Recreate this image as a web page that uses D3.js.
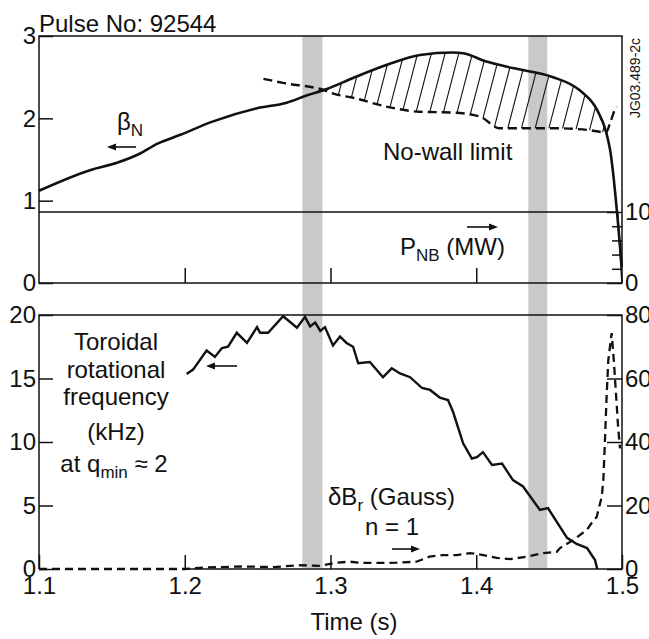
<!DOCTYPE html>
<html>
<head>
<meta charset="utf-8">
<script src="https://cdn.jsdelivr.net/npm/d3@7"></script>
<style>
  body { margin: 0; background: #fff; }
  svg { font-family: "Liberation Sans", Arial, Helvetica, sans-serif; fill: #111; }
  .axis text { font-size: 24px; font-family: "Liberation Sans", Arial, sans-serif; fill: #111; }
  .axis line { stroke: #111; stroke-width: 1.5; }
  .label { font-size: 24px; }
</style>
</head>
<body>
<div id="chart"></div>
<script>
// Pulse 92544

// beta_N (left axis, top panel)
const betaTime = [1.100, 1.135, 1.1535, 1.169, 1.181, 1.197, 1.219, 1.249, 1.270, 1.284, 1.298,
                  1.3155, 1.3388, 1.3614, 1.384, 1.391, 1.407, 1.425, 1.4527, 1.471, 1.483,
                  1.489, 1.4918, 1.4998];
const betaValue = [1.12, 1.37, 1.46, 1.57, 1.69, 1.80, 1.96, 2.12, 2.19, 2.28, 2.36,
                   2.49, 2.65, 2.77, 2.80, 2.79, 2.69, 2.61, 2.50, 2.34, 2.10,
                   1.84, 1.62, 0.20];

// no-wall beta limit (dashed, top panel)
const wallTime = [1.254, 1.2675, 1.296, 1.302, 1.3155, 1.339, 1.361, 1.384, 1.4026, 1.416,
                  1.430, 1.4527, 1.476, 1.489, 1.4918, 1.495, 1.4965];
const wallValue = [2.48, 2.43, 2.34, 2.30, 2.25, 2.14, 2.08, 2.07, 2.02, 1.88,
                   1.88, 1.88, 1.86, 1.83, 1.94, 2.10, 2.14];

// NBI power in MW (right axis, top panel)
const pnbTime = [1.100, 1.497, 1.500];
const pnbValue = [10, 10, 0];

// toroidal rotation frequency at q_min ~ 2, kHz (left axis, bottom panel)
const rotTime = [1.2013, 1.2057, 1.215, 1.2207, 1.2255, 1.2297, 1.2357, 1.2427, 1.2496, 1.2517,
                 1.2572, 1.2675, 1.277, 1.2825, 1.286, 1.2895, 1.293, 1.2962, 1.3017, 1.3065,
                 1.311, 1.3155, 1.319, 1.327, 1.336, 1.342, 1.3477, 1.3546, 1.3628, 1.3683,
                 1.375, 1.3806, 1.384, 1.391, 1.397, 1.4005, 1.4046, 1.4108, 1.4177, 1.4252,
                 1.4321, 1.4437, 1.4492, 1.4623, 1.4689, 1.476, 1.4815, 1.483];
const rotValue = [15.35, 15.7, 17.2, 16.7, 17.4, 17.5, 18.6, 17.8, 19.05, 18.6,
                  18.6, 19.9, 19.0, 19.85, 19.1, 19.4, 18.75, 19.05, 17.6, 18.3,
                  17.8, 17.5, 16.2, 16.3, 15.1, 15.8, 15.4, 15.1, 14.25, 14.1,
                  13.5, 13.3, 12.4, 9.9, 8.7, 8.8, 9.2, 8.2, 8.3, 7.0,
                  6.5, 4.65, 4.8, 2.45, 1.97, 1.65, 0.7, 0];

// n=1 radial field perturbation, Gauss (right axis, bottom panel)
const brTime = [1.100, 1.200, 1.215, 1.240, 1.260, 1.280, 1.293, 1.304, 1.3134, 1.322,
                1.334, 1.3454, 1.359, 1.368, 1.377, 1.3866, 1.3957, 1.4048, 1.414, 1.4232,
                1.4346, 1.446, 1.4552, 1.4575, 1.4664, 1.4758, 1.4792, 1.4826, 1.4861, 1.4872,
                1.4883, 1.4895, 1.4906, 1.4929, 1.4945, 1.4959, 1.4973, 1.4986];
const brValue = [0, 0, 0.5, 0.8, 0.6, 1.2, 1.0, 2.0, 2.3, 1.9,
                 1.9, 2.0, 2.3, 3.9, 4.4, 4.4, 5.0, 4.4, 3.5, 3.1,
                 3.9, 5.0, 5.4, 6.6, 9.1, 12.3, 14.5, 16.4, 22.7, 28,
                 40.6, 55, 65.8, 74.3, 65, 55, 45, 38];

// shaded time windows
const bandStart = [1.2807, 1.4357];
const bandEnd = [1.2945, 1.4487];

// ticks
const timeTicks = [1.1, 1.2, 1.3, 1.4, 1.5];
const betaTicks = [0, 1, 2, 3];
const pnbTicks = [0, 10];
const pnbMinorTicks = [2, 4, 6, 8];
const rotTicks = [0, 5, 10, 15, 20];
const brTicks = [0, 20, 40, 60, 80];

const zip = (ts, vs) => ts.map((t, i) => ({t: t, v: vs[i]}));
const beta = zip(betaTime, betaValue);
const wall = zip(wallTime, wallValue);
const pnb = zip(pnbTime, pnbValue);
const rot = zip(rotTime, rotValue);
const br = zip(brTime, brValue);

// Setup
const svgWidth = 649;
const svgHeight = 639;

const svg = d3.select("#chart")
    .append("svg")
    .attr("width", svgWidth)
    .attr("height", svgHeight);

const x = d3.scaleLinear().domain([1.1, 1.5]).range([39, 622]);

// top panel
const topY0 = 36, topY1 = 283;
const yBeta = d3.scaleLinear().domain([0, 3]).range([topY1, topY0]);
const yPnb = d3.scaleLinear().domain([0, 10]).range([topY1, 212]);

// bottom panel
const botY0 = 315, botY1 = 569;
const yRot = d3.scaleLinear().domain([0, 20]).range([botY1, botY0]);
const yBr = d3.scaleLinear().domain([0, 80]).range([botY1, botY0]);

// grey time windows across both panels
svg.selectAll(".band")
  .data(bandStart)
  .enter().append("rect")
    .attr("class", "band")
    .attr("x", d => x(d))
    .attr("width", (d, i) => x(bandEnd[i]) - x(d))
    .attr("y", topY0)
    .attr("height", 568 - topY0)
    .attr("fill", "#c9c9c9");

// hatching between beta_N and the no-wall limit
const defs = svg.append("defs");
defs.append("clipPath").attr("id", "underBeta")
  .append("path")
    .attr("d", d3.area()
        .x(d => x(d.t)).y0(topY1).y1(d => yBeta(d.v))
        .curve(d3.curveMonotoneX)(beta));
defs.append("clipPath").attr("id", "overWall")
  .append("path")
    .attr("d", d3.area()
        .x(d => x(d.t)).y0(topY0).y1(d => yBeta(d.v))
        .curve(d3.curveMonotoneX)(wall));

const hatchY = yBeta(1.88);
const hatch = svg.append("g").attr("clip-path", "url(#underBeta)")
  .append("g").attr("clip-path", "url(#overWall)");
hatch.selectAll("line")
  .data(d3.range(-20, 12))
  .enter().append("line")
    .attr("x1", k => 466.7 + 13.7 * k + 0.26 * (hatchY - 160))
    .attr("y1", 160)
    .attr("x2", k => 466.7 + 13.7 * k + 0.26 * (hatchY - 40))
    .attr("y2", 40)
    .attr("stroke", "#111")
    .attr("stroke-width", 1.1);

// curves
const lineBeta = d3.line().x(d => x(d.t)).y(d => yBeta(d.v)).curve(d3.curveMonotoneX);
const lineRot = d3.line().x(d => x(d.t)).y(d => yRot(d.v));
const lineBr = d3.line().x(d => x(d.t)).y(d => yBr(d.v));
const linePnb = d3.line().x(d => x(d.t)).y(d => yPnb(d.v));

svg.append("path").attr("d", linePnb(pnb))
    .attr("fill", "none").attr("stroke", "#111").attr("stroke-width", 1.6);
svg.append("path").attr("d", lineBeta(wall))
    .attr("fill", "none").attr("stroke", "#111").attr("stroke-width", 2.4)
    .attr("stroke-dasharray", "9,5");
svg.append("path").attr("d", lineBeta(beta))
    .attr("fill", "none").attr("stroke", "#111").attr("stroke-width", 2.6);
svg.append("path").attr("d", lineRot(rot))
    .attr("fill", "none").attr("stroke", "#111").attr("stroke-width", 2.4)
    .attr("stroke-linejoin", "miter");
svg.append("path").attr("d", lineBr(br))
    .attr("fill", "none").attr("stroke", "#111").attr("stroke-width", 2.3)
    .attr("stroke-dasharray", "8,5");

// frames
const frame = svg.append("g")
    .attr("fill", "none").attr("stroke", "#111").attr("stroke-width", 1.5);
frame.append("rect")
    .attr("x", x(1.1)).attr("y", topY0)
    .attr("width", x(1.5) - x(1.1)).attr("height", topY1 - topY0);
frame.append("path")
    .attr("d", `M${x(1.2)},${botY1}H${x(1.5)}V${botY0}H${x(1.1)}V${botY1}`);

// axes
const removeDomain = g => g.select(".domain").remove();

svg.append("g").attr("class", "axis")
    .attr("transform", `translate(${x(1.1)},0)`)
    .call(d3.axisLeft(yBeta).tickValues(betaTicks).tickSizeInner(-14).tickSizeOuter(0)
        .tickPadding(3).tickFormat(d3.format("d")))
    .call(removeDomain);

svg.append("g").attr("class", "axis")
    .attr("transform", `translate(${x(1.5)},0)`)
    .call(d3.axisRight(yPnb).tickValues(pnbTicks).tickSizeInner(-15).tickSizeOuter(0)
        .tickPadding(3).tickFormat(d3.format("d")))
    .call(removeDomain);

svg.append("g").attr("class", "axis")
    .attr("transform", `translate(${x(1.5)},0)`)
    .call(d3.axisRight(yPnb).tickValues(pnbMinorTicks).tickSizeInner(-10).tickSizeOuter(0)
        .tickFormat(""))
    .call(removeDomain);

svg.append("g").attr("class", "axis")
    .attr("transform", `translate(0,${topY1})`)
    .call(d3.axisBottom(x).tickValues([1.2, 1.3, 1.4]).tickSizeInner(-15).tickSizeOuter(0)
        .tickFormat(""))
    .call(removeDomain);

svg.append("g").attr("class", "axis")
    .attr("transform", `translate(${x(1.1)},0)`)
    .call(d3.axisLeft(yRot).tickValues(rotTicks).tickSizeInner(-14).tickSizeOuter(0)
        .tickPadding(3).tickFormat(d3.format("d")))
    .call(removeDomain);

svg.append("g").attr("class", "axis")
    .attr("transform", `translate(${x(1.5)},0)`)
    .call(d3.axisRight(yBr).tickValues(brTicks).tickSizeInner(-15).tickSizeOuter(0)
        .tickPadding(3).tickFormat(d3.format("d")))
    .call(removeDomain);

svg.append("g").attr("class", "axis")
    .attr("transform", `translate(0,${botY1})`)
    .call(d3.axisBottom(x).tickValues(timeTicks).tickSizeInner(-14).tickSizeOuter(0)
        .tickPadding(8).tickFormat(d3.format(".1f")))
    .call(removeDomain);

// arrows pointing at the axis each curve belongs to
function arrow(x1, x2, y) {
  const dir = Math.sign(x2 - x1);
  svg.append("line")
      .attr("x1", x1).attr("y1", y).attr("x2", x2 - dir * 6).attr("y2", y)
      .attr("stroke", "#111").attr("stroke-width", 1.6);
  svg.append("path")
      .attr("d", `M${x2},${y}L${x2 - dir * 9},${y - 3.5}L${x2 - dir * 9},${y + 3.5}Z`)
      .attr("fill", "#111");
}
arrow(136, 107, 147);
arrow(467, 498, 227);
arrow(237, 206, 366);
arrow(392, 420, 549);

// labels
svg.append("text").attr("class", "label")
    .attr("x", 39).attr("y", 32).text("Pulse No: 92544");

const betaLabel = svg.append("text").attr("class", "label").attr("x", 117).attr("y", 130);
betaLabel.append("tspan").text("β");
betaLabel.append("tspan").attr("dy", 6).style("font-size", "17px").text("N");

svg.append("text").attr("class", "label")
    .attr("x", 383).attr("y", 160).text("No-wall limit");

const pnbLabel = svg.append("text").attr("class", "label").attr("x", 400).attr("y", 255);
pnbLabel.append("tspan").text("P");
pnbLabel.append("tspan").attr("dy", 6).style("font-size", "17px").text("NB");
pnbLabel.append("tspan").attr("dy", -6).text(" (MW)");

svg.append("text")
    .attr("transform", "translate(640,78) rotate(-90)")
    .attr("text-anchor", "middle")
    .style("font-size", "14px")
    .text("JG03.489-2c");

const rotLines = ["Toroidal", "rotational", "frequency", "(kHz)"];
const rotBaselines = [350, 378, 405, 440];
svg.selectAll(".rotLabel")
  .data(rotLines)
  .enter().append("text")
    .attr("class", "label rotLabel")
    .attr("x", 116)
    .attr("y", (d, i) => rotBaselines[i])
    .attr("text-anchor", "middle")
    .text(d => d);

const qLabel = svg.append("text").attr("class", "label")
    .attr("x", 114).attr("y", 472).attr("text-anchor", "middle");
qLabel.append("tspan").text("at q");
qLabel.append("tspan").attr("dy", 6).style("font-size", "17px").text("min");
qLabel.append("tspan").attr("dy", -6).text(" ≈ 2");

const brLabel = svg.append("text").attr("class", "label").attr("x", 328).attr("y", 505);
brLabel.append("tspan").text("δB");
brLabel.append("tspan").attr("dy", 6).style("font-size", "17px").text("r");
brLabel.append("tspan").attr("dy", -6).text(" (Gauss)");

svg.append("text").attr("class", "label")
    .attr("x", 392).attr("y", 535).attr("text-anchor", "middle").text("n = 1");

svg.append("text").attr("class", "label")
    .attr("x", 354).attr("y", 630).attr("text-anchor", "middle").text("Time (s)");
</script>
</body>
</html>
